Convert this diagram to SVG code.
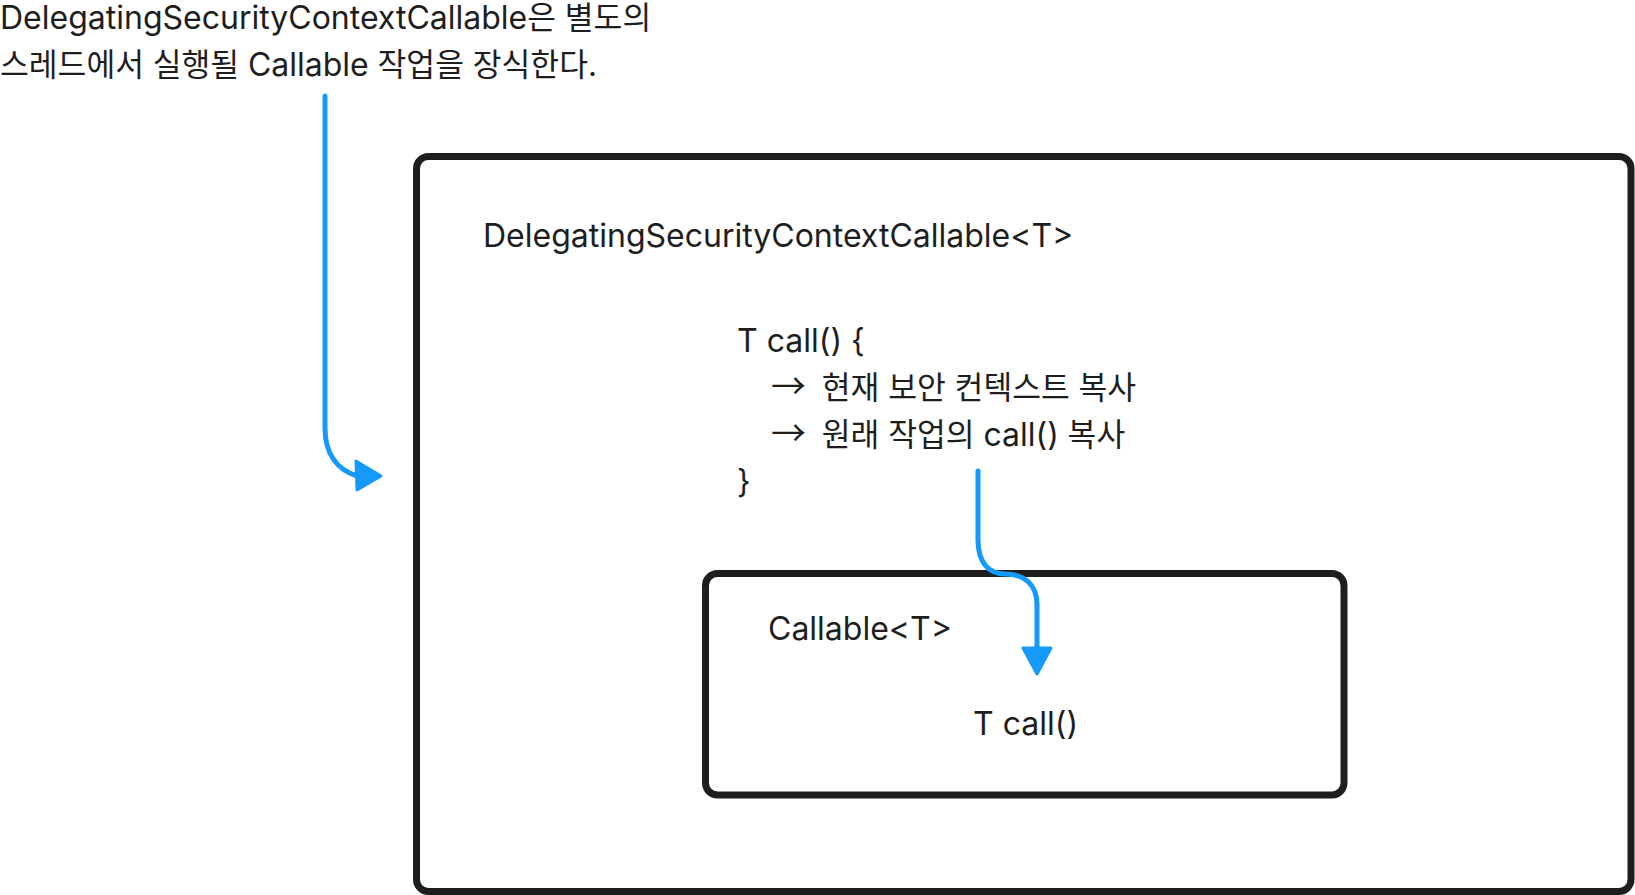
<svg xmlns="http://www.w3.org/2000/svg" width="1635" height="895" viewBox="0 0 1635 895">
<style>
.t{font-family:Inter,"Noto Sans CJK KR",sans-serif;font-size:32px;fill:#1e1e1e}
.k{font-size:31.3px}
.ar{font-family:"Noto Sans CJK KR",sans-serif;font-size:35px}
.box{fill:none;stroke:#1e1e1e;stroke-width:7}
.arr{fill:none;stroke:#1599fb;stroke-width:5;stroke-linecap:round;stroke-linejoin:round}
.head{fill:#1599fb;stroke:#1599fb;stroke-width:3;stroke-linejoin:round}
</style>
<rect width="1635" height="895" fill="#ffffff"/>
<g id="note">
<text class="t" x="0" y="29">DelegatingSecurityContextCallable<tspan class="k">은 별도의</tspan></text>
<text class="t" x="0" y="76"><tspan class="k">스레드에서 실행될 </tspan>Callable<tspan class="k"> 작업을 장식한다.</tspan></text>
</g>
<g id="outer">
<rect class="box" x="416.5" y="156.5" width="1214.5" height="735" rx="12"/>
<text class="t" x="483" y="247">DelegatingSecurityContextCallable&lt;T&gt;</text>
<text class="t" x="737" y="352">T call() {</text>
<text class="t" x="771" y="399"><tspan class="ar">→</tspan><tspan class="k" dx="7"> 현재 보안 컨텍스트 복사</tspan></text>
<text class="t" x="771" y="446"><tspan class="ar">→</tspan><tspan class="k" dx="7"> 원래 작업의 </tspan>call()<tspan class="k"> 복사</tspan></text>
<text class="t" x="737" y="493">}</text>
</g>
<g id="inner">
<rect class="box" x="705.5" y="573.5" width="638.5" height="221.5" rx="12"/>
<text class="t" x="768" y="640">Callable&lt;T&gt;</text>
<text class="t" x="973" y="735">T call()</text>
</g>
<g id="connectors">
<path class="arr" d="M325 96 V428 C325 455 338 470 357 476"/>
<polygon class="head" points="356,461 381,476 357,490"/>
<path class="arr" d="M978 471 V540 C978 563 989 574 1005 574 C1025 574 1037 585 1037 605 V650"/>
<polygon class="head" points="1023,648 1051,648 1037,674"/>
</g>
</svg>
